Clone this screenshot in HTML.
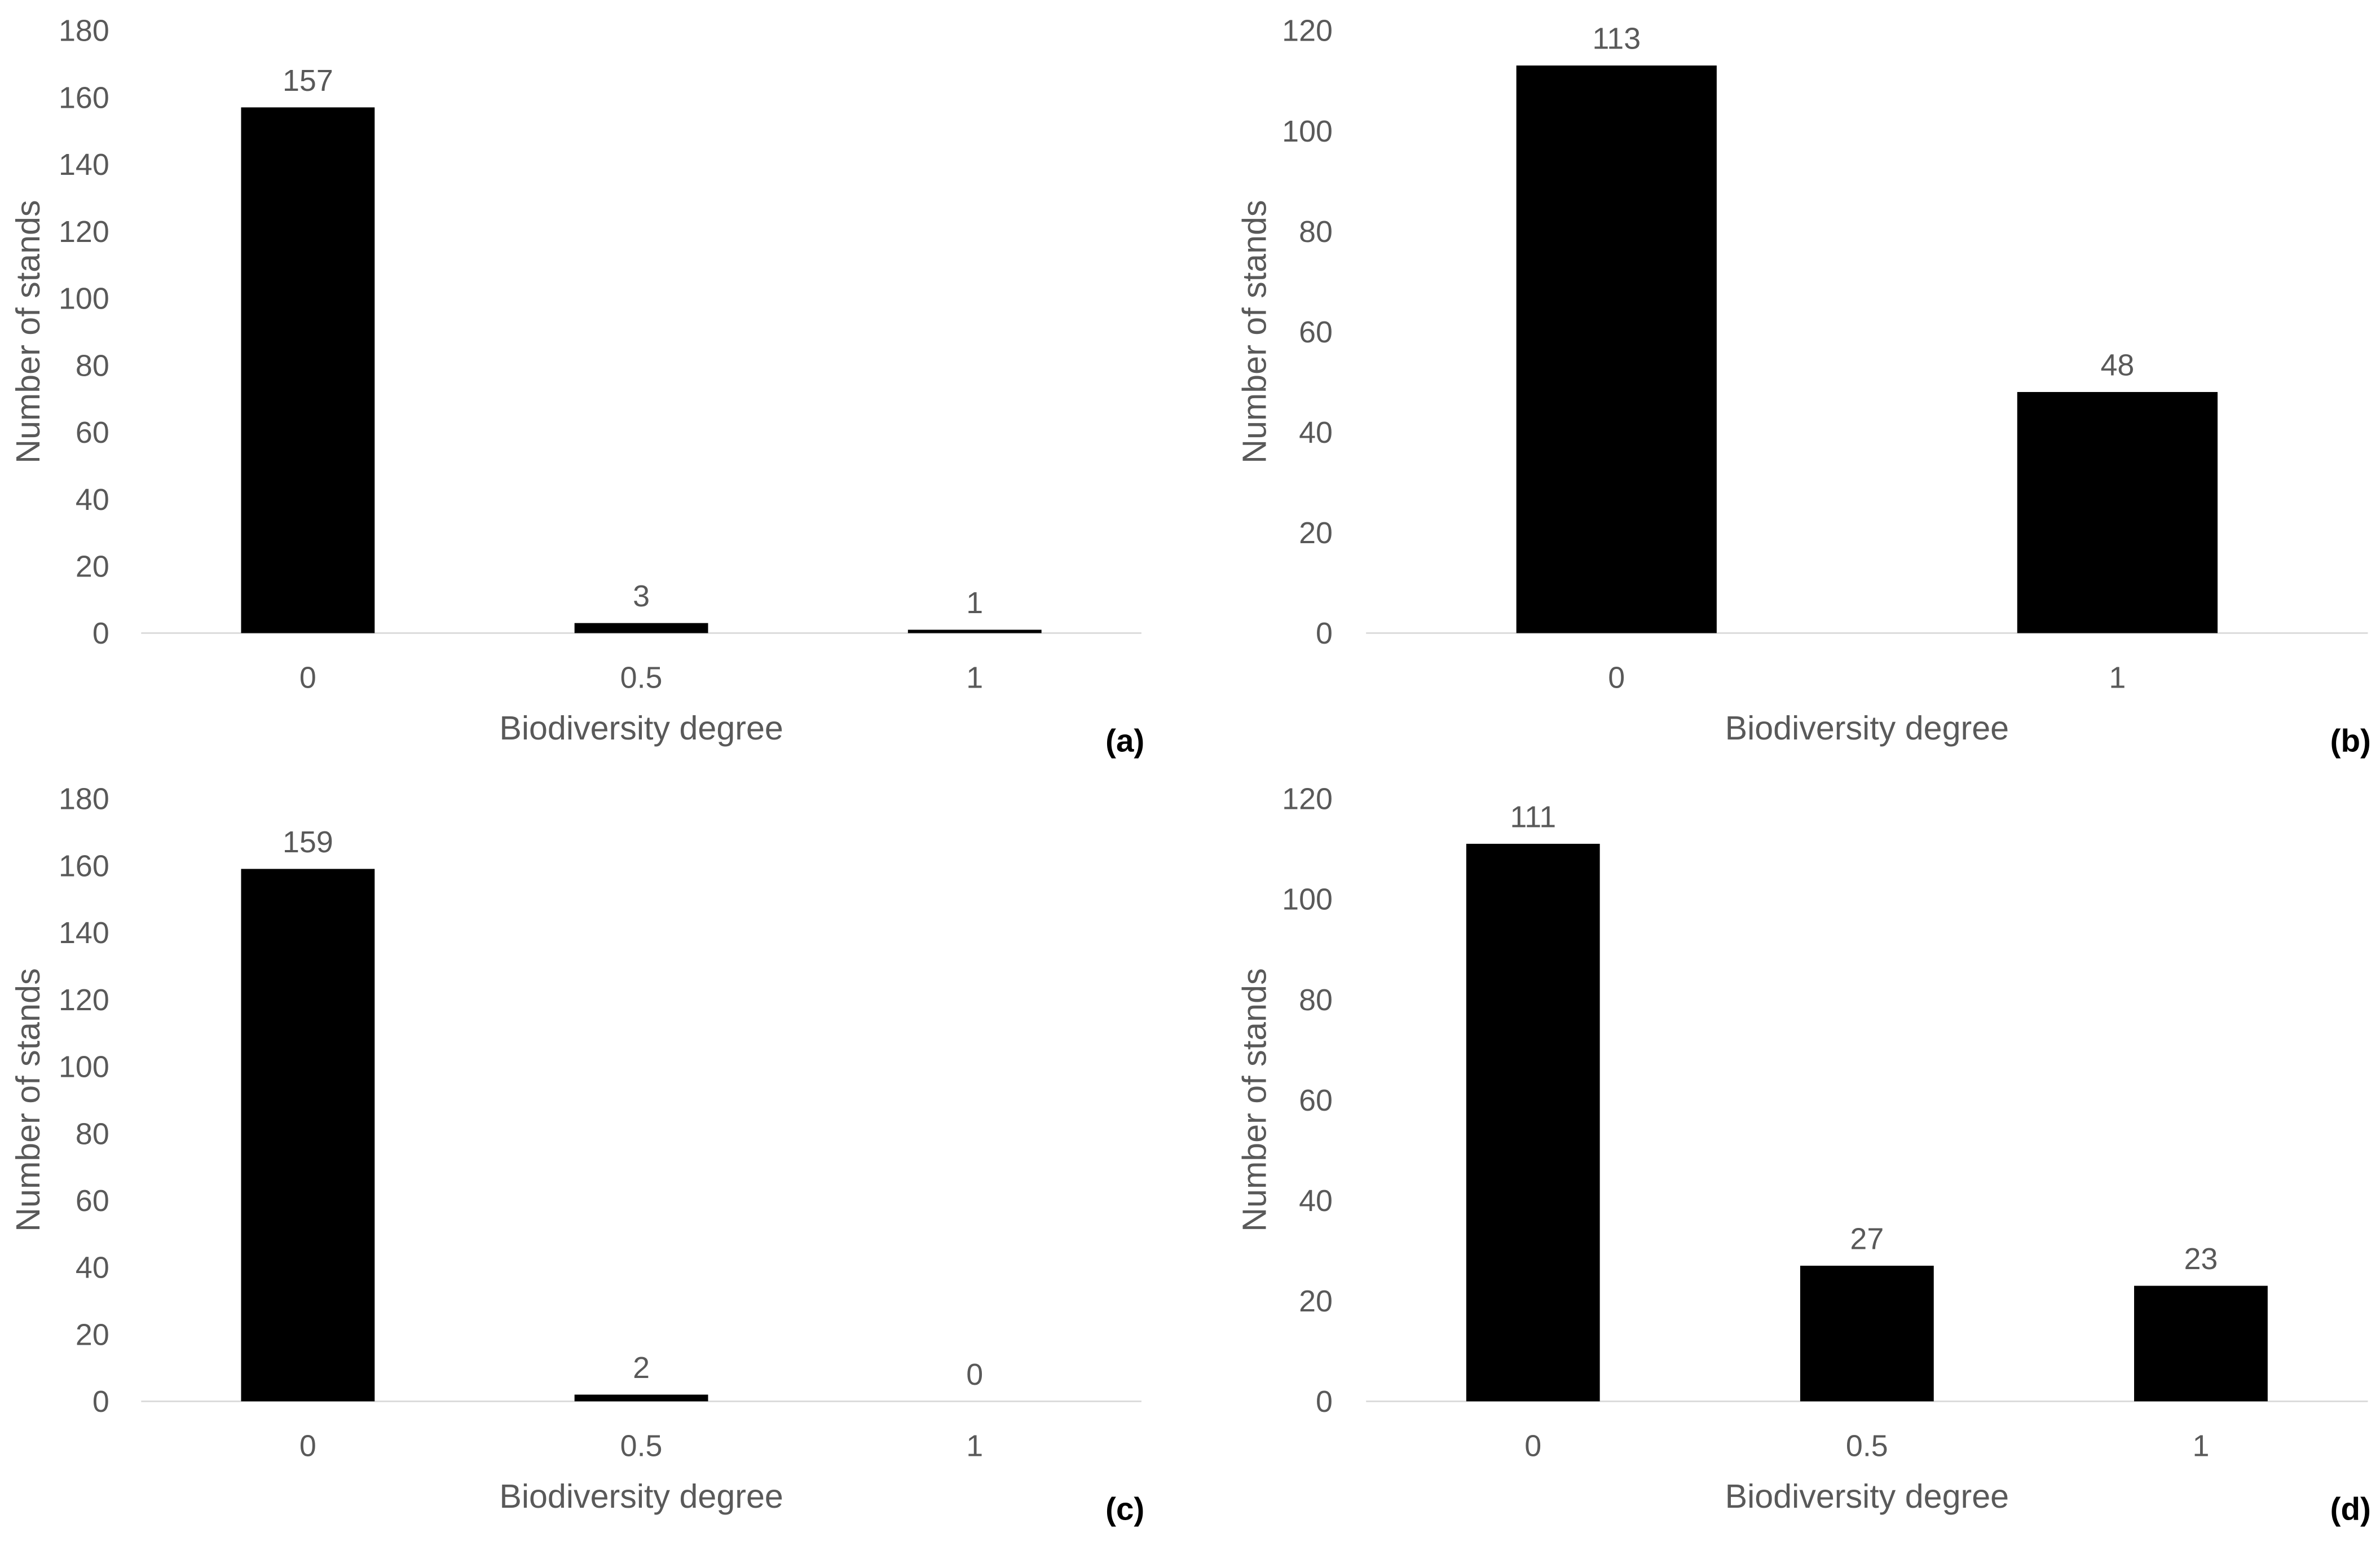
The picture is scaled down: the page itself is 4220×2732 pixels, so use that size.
<!DOCTYPE html>
<html><head><meta charset="utf-8"><style>
html,body{margin:0;padding:0;background:#fff;}
svg{display:block;}
text{font-family:"Liberation Sans Narrow","Liberation Sans",sans-serif;fill:#595959;}
</style></head><body>
<svg id="fig" width="4220" height="2732" viewBox="0 0 1568 1015" preserveAspectRatio="none" xmlns="http://www.w3.org/2000/svg"></svg>
<script>
const catsA = ["0","0.5","1"];
const valsA = [157,3,1];
const ticksA = [0,20,40,60,80,100,120,140,160,180];
const catsB = ["0","1"];
const valsB = [113,48];
const ticksB = [0,20,40,60,80,100,120];
const catsC = ["0","0.5","1"];
const valsC = [159,2,0];
const ticksC = [0,20,40,60,80,100,120,140,160,180];
const catsD = ["0","0.5","1"];
const valsD = [111,27,23];
const ticksD = [0,20,40,60,80,100,120];

const NS = "http://www.w3.org/2000/svg";
const svg = document.getElementById('fig');
function mk(tag, attrs, parent){
  const e = document.createElementNS(NS, tag);
  for (const k in attrs) e.setAttribute(k, attrs[k]);
  (parent||svg).appendChild(e);
  return e;
}
function panel(id, cats, vals, ticks, cfg){
  const g = mk('g', {});
  
  
  const maxT = ticks[ticks.length-1];
  const y = v => cfg.y0 - (v / maxT) * (cfg.y0 - cfg.yTop);
  const step = (cfg.x1 - cfg.x0) / cats.length;
  const x = i => cfg.x0 + step * (i + 0.5);
  ticks.forEach(t => {
    const tx = mk('text', {x: cfg.tickX, y: y(t) + 7, 'text-anchor': 'end', 'font-size': 20}, g);
    tx.textContent = t;
    
    
  });
  const ax = mk('line', {x1: cfg.x0, x2: cfg.x1, y1: cfg.y0, y2: cfg.y0, stroke: '#d9d9d9', 'stroke-width': 1}, g);
  
  
  cats.forEach((c, i) => {
    const bh = cfg.y0 - y(vals[i]);
    const r = mk('rect', {x: x(i) - cfg.bw/2, y: y(vals[i]), width: cfg.bw, height: Math.max(bh, 0), fill: '#000'}, g);
    
    
    const lb = mk('text', {x: x(i), y: y(vals[i]) - 11, 'text-anchor': 'middle', 'font-size': 20}, g);
    lb.textContent = vals[i];
    
    
    const xt = mk('text', {x: x(i), y: cfg.y0 + 36, 'text-anchor': 'middle', 'font-size': 20}, g);
    xt.textContent = c;
    
    
  });
  const xt = mk('text', {x: (cfg.x0 + cfg.x1)/2, y: cfg.y0 + 70, 'text-anchor': 'middle', 'font-size': 22}, g);
  xt.textContent = 'Biodiversity degree';
  
  
  const yc = (cfg.y0 + cfg.yTop)/2;
  const yt = mk('text', {x: 0, y: 0, 'text-anchor': 'middle', 'font-size': 22, transform: 'translate(' + (cfg.titleX) + ',' + yc + ') rotate(-90)', style: 'font-family:"Liberation Sans",sans-serif'}, g);
  yt.textContent = 'Number of stands';
  
  
  const pl = mk('text', {x: cfg.x1 + 2, y: cfg.y0 + 78, 'text-anchor': 'end', 'font-size': 21, 'font-weight': 'bold', style: 'fill:#000'}, g);
  pl.textContent = '(' + id + ')';
  
  
}
panel('a', catsA, valsA, ticksA, {x0: 93, x1: 752, y0: 417, yTop: 20, bw: 88, tickX: 72, titleX: 26});
panel('b', catsB, valsB, ticksB, {x0: 900, x1: 1560, y0: 417, yTop: 20, bw: 132, tickX: 878, titleX: 834});
panel('c', catsC, valsC, ticksC, {x0: 93, x1: 752, y0: 923, yTop: 526, bw: 88, tickX: 72, titleX: 26});
panel('d', catsD, valsD, ticksD, {x0: 900, x1: 1560, y0: 923, yTop: 526, bw: 88, tickX: 878, titleX: 834});
</script>
</body></html>
